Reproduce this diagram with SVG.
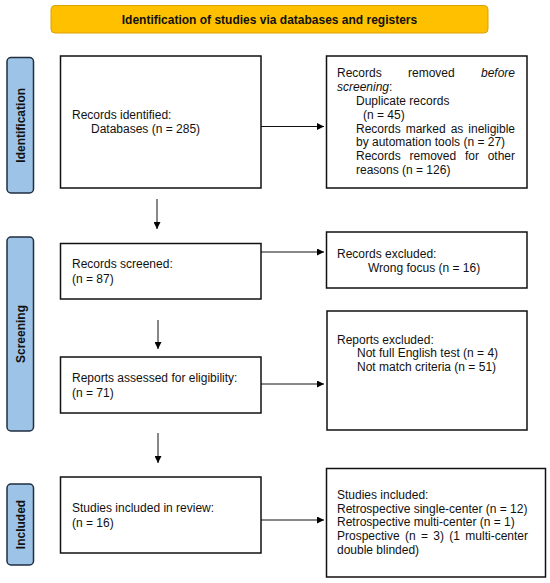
<svg xmlns="http://www.w3.org/2000/svg" width="550" height="583" viewBox="0 0 550 583">
<defs>
<marker id="ah" viewBox="0 0 10 10" refX="10" refY="5" markerWidth="8" markerHeight="7" markerUnits="userSpaceOnUse" orient="auto">
<path d="M0,0 L10,5 L0,10 Z" fill="#000"/>
</marker>
<style>
text{font-family:"Liberation Sans",Arial,sans-serif;font-size:12px;fill:#111}
.box{fill:#fff;stroke:#111;stroke-width:1.5}
.stage{fill:#9DC3E6;stroke:#1F2F40;stroke-width:1.5}
.st{font-weight:bold;text-anchor:middle}
.conn{stroke:#111;stroke-width:1;fill:none;marker-end:url(#ah)}
</style>
</defs>
<rect width="550" height="583" fill="#fff"/>
<g id="header">
<rect x="51" y="5.5" width="437" height="27.5" rx="4" fill="#FFC000" stroke="#D9A200" stroke-width="1"/>
<text x="269.5" y="24" class="st">Identification of studies via databases and registers</text>
</g>
<g id="stage-identification">
<rect x="7" y="57.5" width="26.5" height="135.5" rx="4" class="stage"/>
<text transform="translate(24.5,125.3) rotate(-90)" class="st">Identification</text>
</g>
<g id="stage-screening">
<rect x="7" y="237" width="26.5" height="194" rx="4" class="stage"/>
<text transform="translate(24.5,334) rotate(-90)" class="st">Screening</text>
</g>
<g id="stage-included">
<rect x="7" y="484" width="26.5" height="81" rx="4" class="stage"/>
<text transform="translate(24.5,524.5) rotate(-90)" class="st">Included</text>
</g>
<g id="records-identified">
<rect x="60.5" y="56" width="200.5" height="132" class="box"/>
<text x="72" y="119">Records identified:</text>
<text x="91" y="133">Databases (n = 285)</text>
</g>
<g id="records-removed">
<rect x="326.5" y="56" width="200.5" height="132" class="box"/>
<text y="77.3"><tspan x="337">Records</tspan><tspan x="408">removed</tspan><tspan x="515" text-anchor="end" font-style="italic">before</tspan></text>
<text x="337" y="91.1" font-style="italic">screening<tspan font-style="normal">:</tspan></text>
<text x="356" y="104.9">Duplicate records</text>
<text x="363" y="118.7">(n = 45)</text>
<text y="132.5"><tspan x="356">Records</tspan><tspan x="405.7">marked</tspan><tspan x="450.7">as</tspan><tspan x="515" text-anchor="end">ineligible</tspan></text>
<text x="356" y="146.3">by automation tools (n = 27)</text>
<text y="160.1"><tspan x="356">Records</tspan><tspan x="409.5">removed</tspan><tspan x="465">for</tspan><tspan x="515" text-anchor="end">other</tspan></text>
<text x="356" y="173.9">reasons (n = 126)</text>
</g>
<g id="records-screened">
<rect x="60.5" y="243.5" width="200.5" height="55.5" class="box"/>
<text x="72" y="268">Records screened:</text>
<text x="72" y="283">(n = 87)</text>
</g>
<g id="records-excluded">
<rect x="326.5" y="232" width="200.5" height="56" class="box"/>
<text x="337" y="257.5">Records excluded:</text>
<text x="368" y="272">Wrong focus (n = 16)</text>
</g>
<g id="reports-assessed">
<rect x="60.5" y="357" width="200.5" height="56" class="box"/>
<text x="72" y="382">Reports assessed for eligibility:</text>
<text x="72" y="397">(n = 71)</text>
</g>
<g id="reports-excluded">
<rect x="327" y="311" width="200" height="119" class="box"/>
<text x="337" y="343.5">Reports excluded:</text>
<text x="357" y="357">Not full English test (n = 4)</text>
<text x="357" y="370.5">Not match criteria (n = 51)</text>
</g>
<g id="studies-included-review">
<rect x="60.5" y="477" width="200.5" height="76" class="box"/>
<text x="72" y="512">Studies included in review:</text>
<text x="72" y="527">(n = 16)</text>
</g>
<g id="studies-included">
<rect x="326.5" y="468.5" width="219" height="108.5" class="box"/>
<text x="337" y="498.7">Studies included:</text>
<text x="337" y="512.5">Retrospective single-center (n = 12)</text>
<text x="337" y="526.2">Retrospective multi-center (n = 1)</text>
<text y="540"><tspan x="337">Prospective</tspan><tspan x="405">(n</tspan><tspan x="421">=</tspan><tspan x="433.3">3)</tspan><tspan x="449.3">(1</tspan><tspan x="528" text-anchor="end">multi-center</tspan></text>
<text x="337" y="553.7">double blinded)</text>
</g>
<g id="connectors">
<line x1="261" y1="126.5" x2="324" y2="126.5" class="conn"/>
<line x1="157" y1="199" x2="157" y2="229" class="conn"/>
<line x1="261" y1="252" x2="324" y2="252" class="conn"/>
<line x1="158" y1="320" x2="158" y2="349" class="conn"/>
<line x1="261" y1="384" x2="324" y2="384" class="conn"/>
<line x1="158" y1="433" x2="158" y2="463" class="conn"/>
<line x1="261" y1="520" x2="324" y2="520" class="conn"/>
</g>
</svg>
